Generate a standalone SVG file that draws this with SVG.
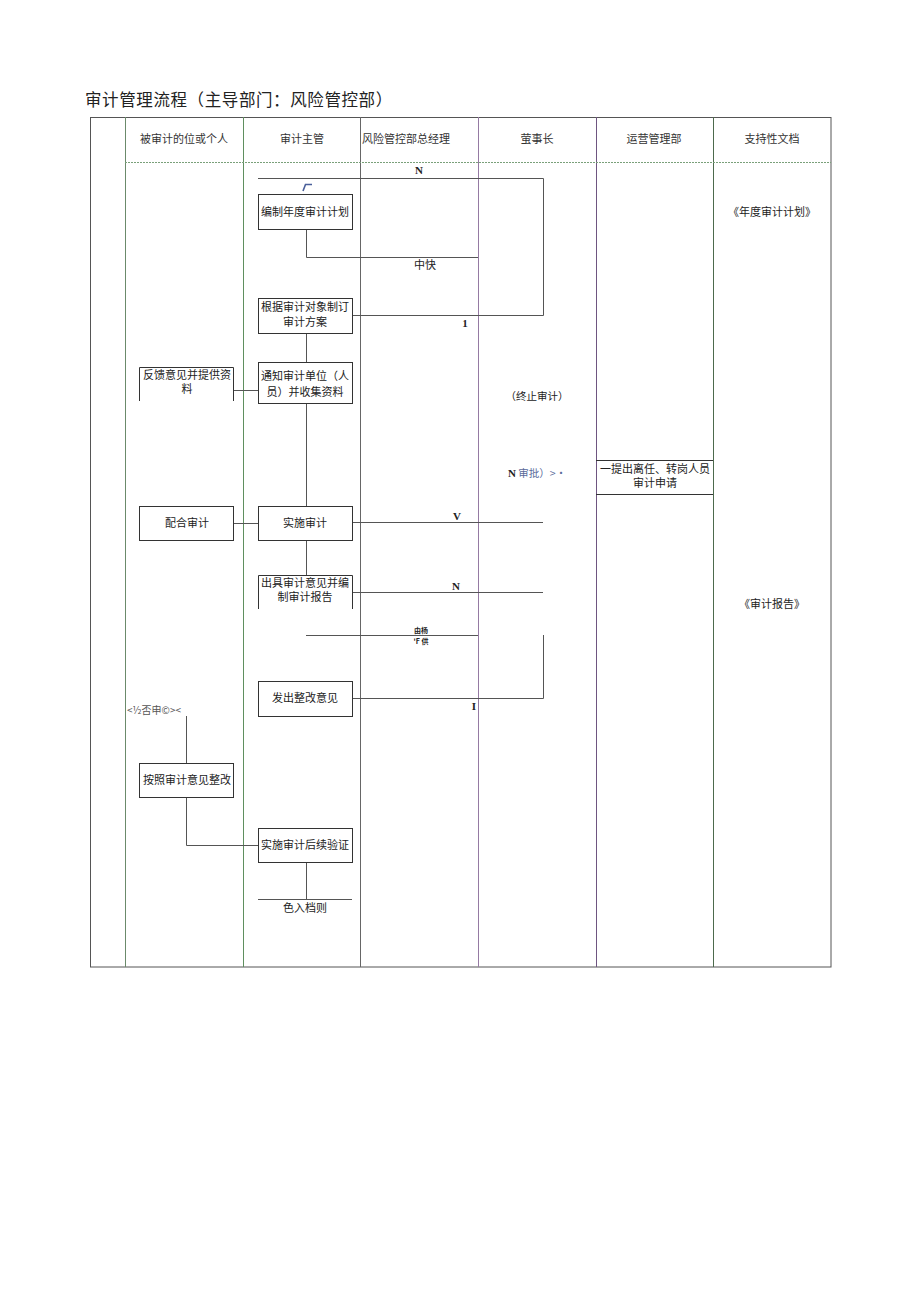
<svg xmlns="http://www.w3.org/2000/svg" width="920" height="1301" viewBox="0 0 920 1301">
<style>
text{font-family:"Noto Sans CJK SC","Noto Sans",sans-serif;fill:#222}
.t{font-size:11px;text-anchor:middle}
.h{font-size:11px;text-anchor:middle;fill:#333}
.b{fill:#fff;stroke:#333;stroke-width:1}
.o{fill:none;stroke:#333;stroke-width:1}
.c{fill:none;stroke:#555;stroke-width:1}
.bl{font-family:"Liberation Serif",serif;font-weight:bold;font-size:11px}
</style>
<rect width="920" height="1301" fill="#fff"/>
<text x="85" y="106" style="font-size:16.5px;letter-spacing:0.6px">审计管理流程（主导部门：风险管控部）</text>
<g id="table">
<rect x="90.5" y="117.5" width="740.5" height="849.5" fill="none" stroke="#555"/>
<line x1="125.5" y1="117" x2="125.5" y2="967" stroke="#6b8a6b"/>
<line x1="243.5" y1="117" x2="243.5" y2="967" stroke="#5f8f5f"/>
<line x1="360.5" y1="117" x2="360.5" y2="967" stroke="#666"/>
<line x1="478.5" y1="117" x2="478.5" y2="967" stroke="#957aa3"/>
<line x1="596.5" y1="117" x2="596.5" y2="967" stroke="#6e5580"/>
<line x1="713.5" y1="117" x2="713.5" y2="967" stroke="#4d6a4d"/>
<line x1="125" y1="162.5" x2="831" y2="162.5" stroke="#7aa07a" stroke-dasharray="2 1"/>
<text class="h" x="184" y="143">被审计的位或个人</text>
<text class="h" x="302" y="143">审计主管</text>
<text x="362" y="143" style="font-size:11px;fill:#333">风险管控部总经理</text>
<text class="h" x="537" y="143">萤事长</text>
<text class="h" x="654" y="143">运营管理部</text>
<text class="h" x="772" y="143">支持性文档</text>
</g>
<g id="connectors">
<polyline class="c" points="258,178.5 543.5,178.5 543.5,315.5 352,315.5"/>
<polyline class="c" points="306.5,229 306.5,257.5 478,257.5"/>
<line class="c" x1="306.5" y1="333" x2="306.5" y2="362"/>
<line class="c" x1="306.5" y1="403" x2="306.5" y2="506"/>
<line class="c" x1="233" y1="390.5" x2="258" y2="390.5"/>
<line class="c" x1="233" y1="523.5" x2="258" y2="523.5"/>
<line class="c" x1="352" y1="522.5" x2="543" y2="522.5"/>
<line class="c" x1="306.5" y1="540" x2="306.5" y2="575"/>
<line class="c" x1="352" y1="592.5" x2="543" y2="592.5"/>
<line class="c" x1="306" y1="635.5" x2="478" y2="635.5"/>
<polyline class="c" points="543.5,635 543.5,698.5 352,698.5"/>
<line class="c" x1="186.5" y1="716" x2="186.5" y2="763"/>
<polyline class="c" points="186.5,797 186.5,845.5 258,845.5"/>
<line class="c" x1="306.5" y1="862" x2="306.5" y2="899"/>
<line class="c" x1="258" y1="899.5" x2="352" y2="899.5"/>
<path d="M303,191 L305.5,184.5 L312,184.5" fill="none" stroke="#4a5f9a" stroke-width="1.6"/>
<text class="bl" x="419" y="174" text-anchor="middle">N</text>
<text class="bl" x="465" y="327" text-anchor="middle">1</text>
<text x="425" y="269" text-anchor="middle" style="font-size:11px">中快</text>
<text class="bl" x="457" y="520" text-anchor="middle">V</text>
<text class="bl" x="456" y="590" text-anchor="middle">N</text>
<text x="421" y="633" text-anchor="middle" style="font-size:7px;font-weight:bold">由杨</text>
<text x="421" y="644" text-anchor="middle" style="font-size:7px;font-weight:bold">'F 供</text>
<text class="bl" x="474" y="710" text-anchor="middle">I</text>
<text x="537" y="400" text-anchor="middle" style="font-size:10.5px">（终止审计）</text>
<text x="508" y="477" style="font-size:10.5px"><tspan class="bl" style="fill:#222">N</tspan><tspan style="fill:#5a6a9a"> 审批）&gt;·</tspan></text>
<text x="127" y="714" style="font-size:10px;fill:#555">&lt;½否申©&gt;&lt;</text>
</g>
<g id="n1"><rect class="b" x="258.5" y="194.5" width="94" height="35"/><text class="t" x="305" y="216">编制年度审计计划</text></g>
<g id="n2"><rect class="b" x="258.5" y="298.5" width="94" height="35"/><text class="t" x="305" y="311">根据审计对象制订</text><text class="t" x="305" y="326">审计方案</text></g>
<g id="n3"><rect class="b" x="258.5" y="362.5" width="94" height="41"/><text class="t" x="305" y="380">通知审计单位（人</text><text class="t" x="305" y="396">员）并收集资料</text></g>
<g id="n4"><polyline class="o" points="139.5,401 139.5,367.5 233.5,367.5 233.5,401"/><text class="t" x="187" y="379">反馈意见并提供资</text><text class="t" x="187" y="393">料</text></g>
<g id="n5"><rect class="b" x="139.5" y="506.5" width="94" height="34"/><text class="t" x="187" y="527">配合审计</text></g>
<g id="n6"><rect class="b" x="258.5" y="506.5" width="94" height="34"/><text class="t" x="305" y="527">实施审计</text></g>
<g id="n7"><polyline class="o" points="258.5,609 258.5,575.5 352.5,575.5 352.5,609"/><text class="t" x="305" y="587">出具审计意见并编</text><text class="t" x="305" y="601">制审计报告</text></g>
<g id="n8"><rect class="b" x="258.5" y="681.5" width="94" height="35"/><text class="t" x="305" y="702">发出整改意见</text></g>
<g id="n9"><rect class="b" x="139.5" y="763.5" width="94" height="34"/><text class="t" x="187" y="784">按照审计意见整改</text></g>
<g id="n10"><rect class="b" x="258.5" y="828.5" width="94" height="34"/><text class="t" x="305" y="849">实施审计后续验证</text></g>
<g id="n11"><text class="t" x="305" y="912">色入档则</text></g>
<g id="n12"><line x1="596" y1="460.5" x2="713" y2="460.5" stroke="#333"/><line x1="596" y1="494.5" x2="713" y2="494.5" stroke="#333"/><text class="t" x="655" y="473">一提出离任、转岗人员</text><text class="t" x="655" y="487">审计申请</text></g>
<g id="doc1"><text class="t" x="772" y="216">《年度审计计划》</text></g>
<g id="doc2"><text class="t" x="772" y="608">《审计报告》</text></g>
</svg>
